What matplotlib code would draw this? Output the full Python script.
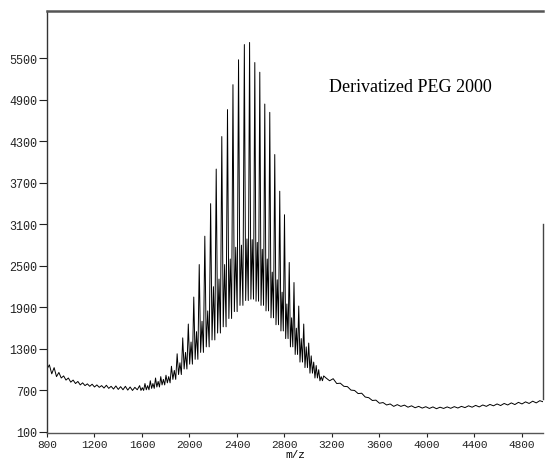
import numpy as np
import matplotlib
matplotlib.use('Agg')
import matplotlib.pyplot as plt

# baseline before the oligomer envelope (m/z 800..1560, every 20)
base_left = [1010, 1070, 940, 1030, 900, 960, 880, 910, 850, 880,
             820, 850, 800, 830, 780, 810, 770, 795, 760, 790,
             750, 780, 745, 770, 735, 775, 730, 760, 720, 765,
             715, 755, 710, 760, 705, 750, 700, 745, 710]

# main PEG series (tall peaks)
tall_mz = [1580, 1625, 1670, 1714, 1758, 1802, 1848, 1896, 1943, 1990,
           2036, 2082, 2129, 2178, 2225, 2272, 2320, 2366, 2413, 2462,
           2506, 2550, 2592, 2634, 2676, 2718, 2760, 2800, 2840, 2880,
           2920, 2962, 3004, 3046, 3088, 3130]
tall_int = [770, 800, 840, 880, 900, 920, 1050, 1230, 1460, 1660,
            2050, 2520, 2930, 3400, 3900, 4370, 4760, 5120, 5480, 5700,
            5730, 5440, 5300, 4840, 4720, 4110, 3580, 3240, 2550, 2260,
            1920, 1660, 1385, 1110, 1000, 910]

# second series between the tall peaks, and the valley level
side_int = [740, 770, 800, 830, 860, 900, 990, 1100, 1250, 1400,
            1550, 1700, 1850, 2200, 2310, 2520, 2600, 2770, 2800, 2890,
            2880, 2840, 2740, 2600, 2410, 2300, 2120, 1950, 1750, 1600,
            1450, 1330, 1200, 1060, 900]
valley_int = [700, 710, 730, 750, 780, 810, 860, 930, 1010, 1080,
              1150, 1250, 1330, 1430, 1530, 1620, 1740, 1840, 1930, 2000,
              2020, 1990, 1930, 1850, 1750, 1650, 1560, 1450, 1330, 1220,
              1110, 1030, 950, 880, 840]

# baseline after the envelope (m/z 3150..4980, every 30)
base_right = [880, 840, 870, 800, 805, 760, 755, 705, 700, 655,
              660, 605, 595, 555, 560, 515, 525, 490, 505, 470,
              495, 470, 488, 458, 478, 450, 470, 445, 465, 440,
              462, 436, 458, 440, 462, 442, 466, 446, 470, 452,
              478, 458, 484, 462, 490, 470, 498, 478, 505, 482,
              512, 490, 520, 496, 528, 505, 535, 512, 545, 520,
              552, 535]

x_ticks = [800, 1200, 1600, 2000, 2400, 2800, 3200, 3600, 4000, 4400, 4800]
y_ticks = [100, 700, 1300, 1900, 2500, 3100, 3700, 4300, 4900, 5500]

# assemble the trace
mz = list(np.linspace(800, 1560, len(base_left)))
inten = list(base_left)
for i in range(len(tall_mz) - 1):
    a, b = tall_mz[i], tall_mz[i + 1]
    d = b - a
    mz += [a, a + d * 0.25, a + d * 0.5, a + d * 0.75]
    inten += [tall_int[i], valley_int[i], side_int[i], valley_int[i]]
mz.append(tall_mz[-1])
inten.append(tall_int[-1])
mz += list(np.linspace(3150, 4980, len(base_right)))
inten += base_right

fig = plt.figure(figsize=(5.46, 4.60), dpi=100)
ax = fig.add_axes([47 / 546, 26 / 460, 496 / 546, 422 / 460])
ax.plot(mz, inten, color='black', lw=0.7)

ax.set_xlim(800, 4977)
ax.set_ylim(85, 6185)
ax.set_xticks(x_ticks)
ax.set_yticks(y_ticks)
ax.set_xticklabels([str(v) for v in x_ticks], family='Liberation Mono', fontsize=8)
ax.set_yticklabels([str(v) for v in y_ticks], family='Liberation Mono', fontsize=8.5)
ax.tick_params(axis='y', direction='out', length=6, width=0.8, pad=1, colors='#222')
ax.tick_params(axis='x', direction='out', length=3, width=0.8, pad=1, colors='#222')

ax.spines['top'].set_linewidth(1.8)
ax.spines['top'].set_color('#555')
ax.spines['left'].set_linewidth(1.0)
ax.spines['left'].set_color('#333')
ax.spines['bottom'].set_linewidth(1.0)
ax.spines['bottom'].set_color('#555')
ax.spines['right'].set_linewidth(1.0)
ax.spines['right'].set_color('#444')
ax.spines['right'].set_bounds(580, 3100)

ax.set_xlabel('m/z', family='Liberation Mono', fontsize=8, labelpad=0)
ax.text(0.732, 0.822, 'Derivatized PEG 2000', transform=ax.transAxes,
        family='Liberation Serif', fontsize=13, ha='center', va='center')

fig.savefig('out.png', dpi=100)
